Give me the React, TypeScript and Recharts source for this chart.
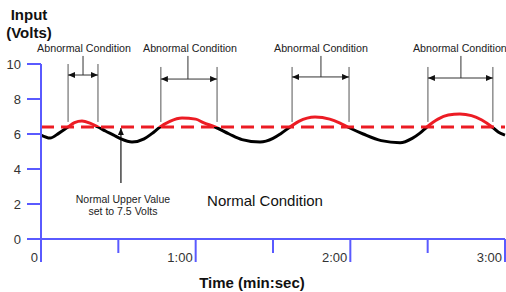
import React from 'react';
import { ComposedChart, Line, XAxis, YAxis, ReferenceLine, ReferenceDot } from 'recharts';

const times = [0, 3.5, 7, 10.5, 13, 15.9, 19, 22.1, 25, 28, 31, 35.3, 40, 43, 46.2, 50, 54.7, 60, 63, 67.5, 73, 78, 85, 90, 93, 96.6, 100, 106.3, 112, 116, 119, 125, 132, 139.3, 144, 147, 149.7, 154, 158, 162.5, 167, 171, 175, 177.5, 180];
const volts = [5.94, 5.77, 6.05, 6.4, 6.65, 6.74, 6.62, 6.4, 6.17, 5.95, 5.72, 5.54, 5.72, 6.02, 6.4, 6.72, 6.91, 6.85, 6.65, 6.4, 6.0, 5.68, 5.54, 5.75, 6.02, 6.4, 6.72, 6.97, 6.85, 6.62, 6.4, 6.0, 5.62, 5.5, 5.75, 6.05, 6.4, 6.85, 7.08, 7.14, 7.05, 6.8, 6.4, 6.1, 5.94];
const threshold = 6.4;
const xTicks = [0, 30, 60, 90, 120, 150, 180];
const yTicks = [0, 2, 4, 6, 8, 10];

const windowStarts = [10.5, 46.5, 97.4, 150.1];
const windowEnds = [22.1, 68.3, 119.5, 175.3];
const stemX = [16.3, 57.0, 108.6, 162.9];
const arrowY = [9.37, 9.14, 9.26, 9.2];
const bracketTop = [10.0, 9.83, 9.83, 9.83];
const bracketBottom = 6.69;
const stemTop = 10.46;
const labelX = [16.7, 57.8, 108.6, 162.5];
const labelY = 10.91;
const abnormalText = 'Abnormal Condition';

const upperArrowX = 31.0;
const upperArrowFrom = 3.2;
const upperArrowTo = 6.34;
const upperTextX = 31.8;
const upperTextY = 2.29;
const upperTextLines = ['Normal Upper Value', 'set to 7.5 Volts'];
const normalTextX = 86.9;
const normalTextY = 2.17;

const data = times.map((t, i) => ({ t, v: volts[i] }));
const vMax = Math.max(...volts);
const vMin = Math.min(...volts);
const gradOff = (vMax - threshold) / (vMax - vMin);

const BLUE = '#5a5aff';
const RED = '#ec1c24';
const FONT = "'Liberation Sans', Arial, sans-serif";

const XTick = (props: any) => {
  const { x, y, payload } = props;
  const v = payload.value;
  const major = v % 60 === 0;
  return (
    <g>
      <line x1={x} y1={y} x2={x} y2={y + (major ? 23 : 14)} stroke={BLUE} strokeWidth={2} />
      {major && (
        <text x={x - 3} y={y + 23} textAnchor="end" fontSize={13} fill="#333" fontFamily={FONT}>
          {v === 0 ? '0' : `${v / 60}:00`}
        </text>
      )}
    </g>
  );
};

const yTitle = () => (
  <g>
    <text x={29} y={20} textAnchor="middle" fontSize={15} fontWeight="bold" fill="#111" fontFamily={FONT}>Input</text>
    <text x={29} y={38} textAnchor="middle" fontSize={15} fontWeight="bold" fill="#111" fontFamily={FONT}>(Volts)</text>
  </g>
);

const xTitle = () => (
  <text x={252} y={288} textAnchor="middle" fontSize={15} fontWeight="bold" fill="#111" fontFamily={FONT}>Time (min:sec)</text>
);

const plainLine = (color: string, width: number) => (p: any) => (
  <line x1={p.x1} y1={p.y1} x2={p.x2} y2={p.y2} stroke={color} strokeWidth={width} />
);

const doubleArrow = (p: any) => (
  <line x1={p.x1} y1={p.y1} x2={p.x2} y2={p.y2} stroke="#333" strokeWidth={1} markerStart="url(#arrowHead)" markerEnd="url(#arrowHead)" />
);

const upArrow = (p: any) => (
  <line x1={p.x1} y1={p.y1} x2={p.x2} y2={p.y2} stroke="#444" strokeWidth={1.5} markerEnd="url(#arrowHead)" />
);

const textShape = (lines: string[], size: number, color: string) => (p: any) => (
  <text x={p.cx} y={p.cy} textAnchor="middle" fontSize={size} fill={color} fontFamily={FONT}>
    {lines.map((l, i) => (
      <tspan key={i} x={p.cx} dy={i === 0 ? '0.35em' : '1.15em'}>{l}</tspan>
    ))}
  </text>
);

export default function App() {
  return (
    <div style={{ position: 'absolute', left: 0, top: 0 }}>
      <ComposedChart width={506} height={292} data={data} margin={{ top: 64, right: 1, left: 0, bottom: 0 }}>
        <defs>
          <linearGradient id="curveGrad" x1="0" y1="0" x2="0" y2="1">
            <stop offset={gradOff} stopColor={RED} />
            <stop offset={gradOff} stopColor="#000" />
          </linearGradient>
          <marker id="arrowHead" viewBox="0 0 7 6" refX="7" refY="3" markerWidth="7" markerHeight="6" markerUnits="userSpaceOnUse" orient="auto-start-reverse">
            <path d="M0,0 L7,3 L0,6 z" fill="#111" />
          </marker>
        </defs>
        <XAxis
          dataKey="t"
          type="number"
          domain={[0, 180]}
          ticks={xTicks}
          interval={0}
          tick={<XTick />}
          tickLine={false}
          tickSize={0}
          tickMargin={0}
          height={53}
          axisLine={{ stroke: BLUE, strokeWidth: 2 }}
          label={xTitle}
        />
        <YAxis
          type="number"
          domain={[0, 10]}
          ticks={yTicks}
          interval={0}
          width={41}
          tickSize={14}
          tickMargin={6}
          tickLine={{ stroke: BLUE, strokeWidth: 2 }}
          axisLine={{ stroke: BLUE, strokeWidth: 2 }}
          tick={{ fontSize: 13, fill: '#333', fontFamily: FONT }}
          label={yTitle}
        />
        {windowStarts.map((s, i) => (
          <ReferenceLine key={`s${i}`} segment={[{ x: s, y: bracketBottom }, { x: s, y: bracketTop[i] }]} ifOverflow="visible" shape={plainLine('#555', 1)} />
        ))}
        {windowEnds.map((e, i) => (
          <ReferenceLine key={`e${i}`} segment={[{ x: e, y: bracketBottom }, { x: e, y: bracketTop[i] }]} ifOverflow="visible" shape={plainLine('#555', 1)} />
        ))}
        {windowStarts.map((s, i) => (
          <ReferenceLine key={`a${i}`} segment={[{ x: s, y: arrowY[i] }, { x: windowEnds[i], y: arrowY[i] }]} ifOverflow="visible" shape={doubleArrow} />
        ))}
        {stemX.map((sx, i) => (
          <ReferenceLine key={`m${i}`} segment={[{ x: sx, y: arrowY[i] }, { x: sx, y: stemTop }]} ifOverflow="visible" shape={plainLine('#333', 1)} />
        ))}
        {labelX.map((lx, i) => (
          <ReferenceDot key={`l${i}`} x={lx} y={labelY} r={0} ifOverflow="visible" shape={textShape([abnormalText], 10.7, '#222')} />
        ))}
        <ReferenceLine segment={[{ x: upperArrowX, y: upperArrowFrom }, { x: upperArrowX, y: upperArrowTo }]} ifOverflow="visible" shape={upArrow} />
        <ReferenceDot x={upperTextX} y={upperTextY} r={0} ifOverflow="visible" shape={textShape(upperTextLines, 10.5, '#222')} />
        <ReferenceDot x={normalTextX} y={normalTextY} r={0} ifOverflow="visible" shape={textShape(['Normal Condition'], 15, '#111')} />
        <Line type="monotone" dataKey="v" stroke="url(#curveGrad)" strokeWidth={3} dot={false} activeDot={false} isAnimationActive={false} />
        <ReferenceLine y={threshold} stroke={RED} strokeWidth={3} strokeDasharray="13 7" />
      </ComposedChart>
    </div>
  );
}
